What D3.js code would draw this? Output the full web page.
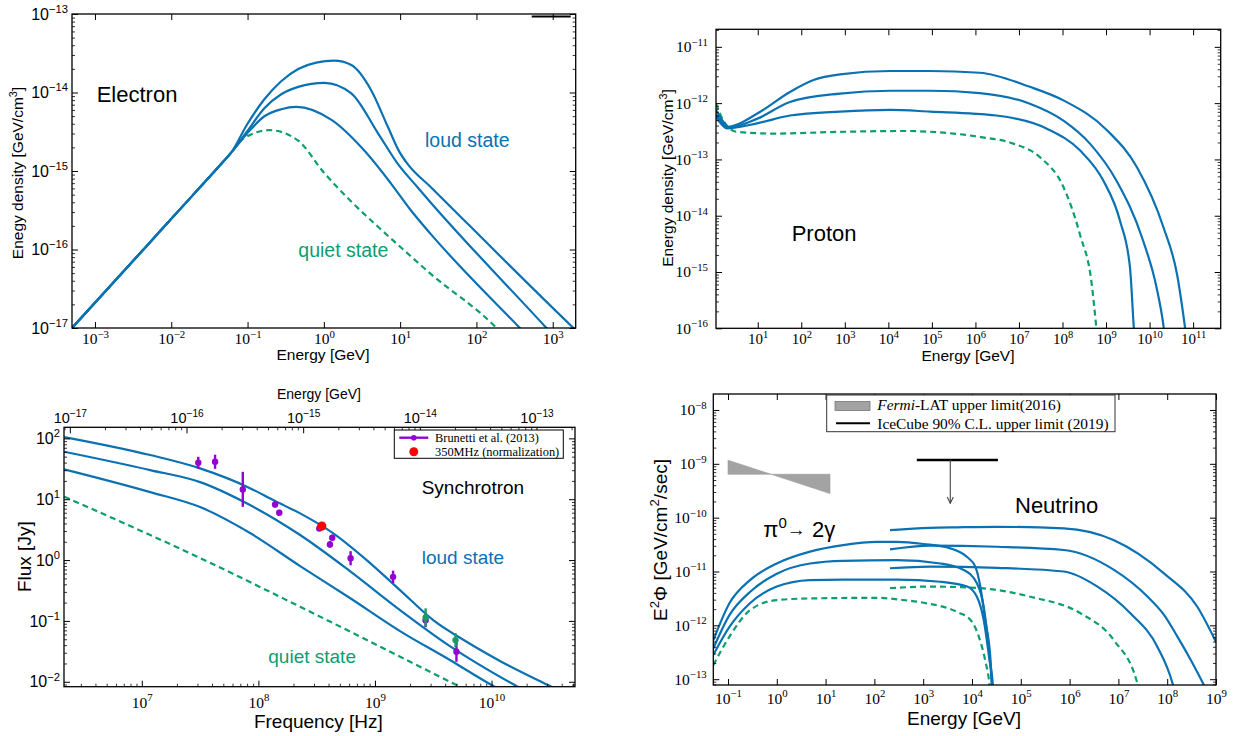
<!DOCTYPE html>
<html><head><meta charset="utf-8">
<script src="https://cdn.jsdelivr.net/npm/d3@7"></script>
<style>body{margin:0;background:#fff}svg{display:block}</style>
</head><body>
<svg id="chart" width="1237" height="736"></svg>
<script>
// ---------------- DATA ----------------
// Electron panel: [energy GeV, energy density GeV/cm^3]
const electronQuiet = [[5e-4,1e-17],[5e-3,1.17e-16],[2e-2,5.15e-16],[4.47e-2,1.22e-15],[6.17e-2,1.74e-15],[8.71e-2,2.57e-15],[0.195,3.31e-15],[0.457,2.45e-15],[1.02,9.33e-16],[2.28,4.09e-16],[5.09,1.96e-16],[11.4,9.68e-17],[25.4,4.85e-17],[171,1.07e-17],[260,7.0e-18]];
const electronLoud1 = [[5e-4,1e-17],[5e-3,1.17e-16],[2e-2,5.15e-16],[4.47e-2,1.22e-15],[6.17e-2,1.74e-15],[0.099,3.02e-15],[0.166,4.98e-15],[0.276,6.12e-15],[0.435,6.55e-15],[1.26,4.47e-15],[3.39,1.82e-15],[7.59,6.92e-16],[13.8,3.16e-16],[25.1,1.58e-16],[347,1.07e-17],[501,7.41e-18]];
const electronLoud2 = [[5e-4,1e-17],[5e-3,1.17e-16],[2e-2,5.15e-16],[4.47e-2,1.22e-15],[6.17e-2,1.74e-15],[0.099,3.21e-15],[0.166,6.31e-15],[0.276,9.51e-15],[0.461,1.18e-14],[1.02,1.33e-14],[2.29,9.77e-15],[5.13,3.02e-15],[9.33,1.23e-15],[17.0,6.17e-16],[25.1,3.98e-16],[776,1.07e-17],[1122,7.24e-18]];
const electronLoud3 = [[5e-4,1e-17],[5e-3,1.17e-16],[2e-2,5.15e-16],[4.47e-2,1.22e-15],[6.17e-2,1.74e-15],[0.099,3.94e-15],[0.166,8.20e-15],[0.276,1.39e-14],[0.461,1.99e-14],[0.793,2.40e-14],[1.365,2.54e-14],[2.29,2.24e-14],[4.17,1.07e-14],[6.92,3.63e-15],[9.70,1.78e-15],[12.5,1.23e-15],[25.5,6.18e-16],[1738,1.07e-17],[2512,7.59e-18]];
const electronXTicks = [1e-3,1e-2,1e-1,1,10,100,1000];
const electronYTicks = [1e-17,1e-16,1e-15,1e-14,1e-13];

// Proton panel
const protonQuiet = [[1.1,9.77e-13],[1.62,4.90e-13],[3.31,3.09e-13],[22.9,2.88e-13],[776,3.09e-13],[2.63e4,3.2e-13],[9.12e4,3.1e-13],[1.26e6,2.51e-13],[7.41e6,1.91e-13],[3.02e7,1.10e-13],[1.05e8,3.24e-14],[2.51e8,4.68e-15],[4.68e8,6.17e-16],[6.03e8,9.55e-17],[7.08e8,2.51e-17]];
const protonLoud1 = [[1.1,5.62e-13],[1.58,3.98e-13],[1.95,3.55e-13],[9.55,4.37e-13],[55,6.03e-13],[776,7.08e-13],[1.1e4,7.59e-13],[9.12e4,7.08e-13],[3.02e6,6.03e-13],[4.27e7,3.55e-13],[2.51e8,1.45e-13],[8.71e8,4.17e-14],[2.09e9,8.13e-15],[3.55e9,1.20e-15],[4.37e9,9.55e-17],[5.01e9,2.51e-17]];
const protonLoud2 = [[1.1,6.31e-13],[1.58,4.37e-13],[2.14,3.63e-13],[9.55,5.25e-13],[55,1.05e-12],[776,1.48e-12],[1.1e4,1.66e-12],[9.12e4,1.66e-12],[1.26e6,1.51e-12],[1.78e7,9.77e-13],[1.05e8,4.90e-13],[4.27e8,1.91e-13],[1.74e9,4.17e-14],[7.08e9,3.63e-15],[1.45e10,5.25e-16],[2.14e10,9.55e-17],[2.51e10,3.16e-17]];
const protonLoud3 = [[1.1,7.59e-13],[1.58,4.79e-13],[2.14,3.80e-13],[9.55,6.46e-13],[55,1.58e-12],[191,2.57e-12],[776,3.24e-12],[1.1e4,3.72e-12],[9.12e4,3.72e-12],[1.26e6,3.47e-12],[1.78e7,1.95e-12],[1.05e8,1.12e-12],[1.05e9,3.31e-13],[5.13e9,7.24e-14],[2.09e10,6.17e-15],[4.27e10,9.12e-16],[6.61e10,9.55e-17],[7.94e10,3.16e-17]];
const protonXTicks = [10,1e2,1e3,1e4,1e5,1e6,1e7,1e8,1e9,1e10,1e11];
const protonYTicks = [1e-16,1e-15,1e-14,1e-13,1e-12,1e-11];

// Synchrotron panel: [frequency Hz, flux Jy]
const syncQuiet = [[2.16e6,11.0],[1.18e7,2.58],[3.16e7,1.08],[2.28e8,0.171],[2.77e9,0.0156],[5.01e9,8.83e-3],[5.18e10,9.46e-4]];
const syncLoud1 = [[2.16e6,31.0],[1.18e7,13.1],[3.16e7,7.43],[8.47e7,2.78],[2.28e8,0.796],[6.10e8,0.238],[1.64e9,0.0681],[4.39e9,0.0228],[1.0e10,8.83e-3],[5.18e10,1.95e-3]];
const syncLoud2 = [[2.16e6,60.3],[1.18e7,30.1],[3.16e7,19.1],[8.47e7,8.02],[2.28e8,2.58],[6.10e8,0.659],[1.64e9,0.151],[4.39e9,0.0386],[1.58e10,8.83e-3],[5.18e10,2.73e-3]];
const syncLoud3 = [[2.16e6,105],[1.18e7,53.2],[3.16e7,32.1],[8.47e7,15.2],[1.39e8,9.33],[2.28e8,5.85],[4.39e8,2.75],[8.49e8,1.0],[1.64e9,0.321],[3.16e9,0.103],[6.11e9,0.0454],[1.18e10,0.0220],[3.05e10,8.83e-3],[5.18e10,5.40e-3]];
const brunettiFreq = [30.5e6,42.5e6,73.5e6,139e6,151e6,333e6,411e6,430e6,618e6,1.43e9,2.72e9,5.0e9];
const brunettiFlux = [39.7,41.2,14.5,8.2,6.0,3.3,1.81,2.33,1.07,0.53,0.103,0.0311];
const brunettiLo   = [31.6,31.6,7.5,7.3,5.4,3.1,1.6,2.1,0.82,0.42,0.079,0.0213];
const brunettiHi   = [49.8,53.8,28.2,9.2,6.7,3.5,2.05,2.6,1.40,0.67,0.134,0.0452];
const greenFreq = [2.72e9,4.91e9];
const greenFlux = [0.114,0.0484];
const greenLo   = [0.081,0.037];
const greenHi   = [0.161,0.063];
const normPoint = [350e6,3.62];
const syncXTicks = [1e7,1e8,1e9,1e10];
const syncYTicks = [1e-2,1e-1,1,10,100];
const syncTopTicks = [1e-17,1e-16,1e-15,1e-14,1e-13];

// Neutrino panel: [energy GeV, E^2 Phi]
const nuLowQuiet = [[0.05,1.82e-13],[0.107,6.17e-13],[0.282,1.91e-12],[1,2.95e-12],[4.79,3.16e-12],[112,3.24e-12],[398,2.95e-12],[1023,2.63e-12],[4898,1.78e-12],[9333,1.26e-12],[1.38e4,6.17e-13],[1.86e4,2.24e-13],[2.29e4,7.24e-14],[2.40e4,3.16e-14]];
const nuLowLoud1 = [[0.05,2.82e-13],[0.107,9.33e-13],[0.282,2.57e-12],[1,5.25e-12],[4.79,6.92e-12],[22.9,7.08e-12],[288,7.08e-12],[2239,6.46e-12],[7943,5.25e-12],[1.26e4,3.39e-12],[1.74e4,1.26e-12],[2.29e4,2.24e-13],[2.69e4,7.24e-14],[2.82e4,3.16e-14]];
const nuLowLoud2 = [[0.05,3.72e-13],[0.107,1.55e-12],[0.282,4.17e-12],[1,9.12e-12],[4.79,1.41e-11],[22.9,1.58e-11],[288,1.62e-11],[2239,1.41e-11],[6761,1.07e-11],[1.26e4,6.03e-12],[1.74e4,2.19e-12],[2.19e4,3.98e-13],[2.57e4,7.24e-14],[2.69e4,3.16e-14]];
const nuLowLoud3 = [[0.05,5.25e-13],[0.107,2.57e-12],[0.282,6.92e-12],[1,1.41e-11],[4.79,2.34e-11],[22.9,3.09e-11],[112,3.55e-11],[288,3.55e-11],[1023,3.24e-11],[3631,2.69e-11],[7943,1.86e-11],[1.17e4,1.23e-11],[1.48e4,5.25e-12],[1.86e4,1.26e-12],[2.40e4,2.24e-13],[2.57e4,7.24e-14],[2.69e4,3.16e-14]];
const nuHighQuiet = [[209,4.90e-12],[1380,5.25e-12],[1.48e4,4.90e-12],[1.58e5,3.39e-12],[1.70e6,1.66e-12],[8.13e6,5.25e-13],[2.45e7,8.32e-14],[2.82e7,3.98e-14]];
const nuHighLoud1 = [[209,1.15e-11],[1380,1.23e-11],[3.24e4,1.17e-11],[7.59e5,1.0e-11],[3.72e6,5.25e-12],[1.78e7,1.66e-12],[6.31e7,3.98e-13],[1.29e8,8.32e-14],[1.58e8,3.98e-14]];
const nuHighLoud2 = [[209,2.57e-11],[1380,3.02e-11],[3.24e4,2.88e-11],[7.59e5,2.51e-11],[8.13e6,1.07e-11],[3.98e7,3.39e-12],[8.67e7,1.55e-12],[1.63e8,6.11e-13],[3.06e8,2.25e-13],[5.66e8,7.73e-14],[7.89e8,4.07e-14]];
const nuHighLoud3 = [[209,5.89e-11],[1380,6.46e-11],[4898,6.61e-11],[3.24e4,6.76e-11],[7.59e5,6.31e-11],[8.13e6,3.80e-11],[8.71e7,9.12e-12],[4.17e8,2.19e-12],[1e9,4.90e-13]];
const fermiBowtie = [[0.1,1.17e-9],[0.1,6.4e-10],[12.3,6.4e-10],[12.3,2.8e-10]];
const icecubeLimit = [[740,1.18e-9],[3.4e4,1.18e-9]];
const icecubeArrow = [[3590,1.18e-9],[3590,1.85e-10]];
const nuXTicks = [0.1,1,10,1e2,1e3,1e4,1e5,1e6,1e7,1e8,1e9];
const nuYTicks = [1e-13,1e-12,1e-11,1e-10,1e-9,1e-8];

// ---------------- DRAWING ----------------
const BLUE = "#0a71b3", GREEN = "#0b9e70", PURPLE = "#9400d3";
const SANS = "'Liberation Sans', Arial, Helvetica, sans-serif";
const SERIF = "'Liberation Serif', 'Times New Roman', serif";
const svg = d3.select("#chart");
const defs = svg.append("defs");
defs.append("marker").attr("id","arrowHead").attr("viewBox","0 0 10 10").attr("refX",9).attr("refY",5)
  .attr("markerWidth",7).attr("markerHeight",7).attr("orient","auto")
  .append("path").attr("d","M1,1 L9,5 L1,9").attr("fill","none").attr("stroke","#444").attr("stroke-width",1.4);

const isPow10 = v => Math.abs(Math.log10(v) - Math.round(Math.log10(v))) < 1e-6;

function powLabel(sel, d, size, family) {
  const e = Math.round(Math.log10(d));
  sel.text(null).attr("font-size", size).attr("font-family", family).attr("fill", "#000");
  sel.append("tspan").text("10");
  sel.append("tspan").attr("font-size", size * 0.7).attr("dy", -size * 0.42)
     .text(e < 0 ? "\u2212" + (-e) : String(e));
}

function drawAxis(g, orient, scale, pos, majors, opt) {
  const mk = {bottom: d3.axisBottom, top: d3.axisTop, left: d3.axisLeft, right: d3.axisRight}[orient];
  const tr = (orient === "bottom" || orient === "top") ? `translate(0,${pos})` : `translate(${pos},0)`;
  const ax = g.append("g").attr("transform", tr)
    .call(mk(scale).tickValues(majors).tickSizeInner(-6).tickSizeOuter(0).tickPadding(opt.pad || 0));
  ax.select(".domain").remove();
  ax.selectAll(".tick line").attr("stroke", "#000").attr("stroke-width", 1);
  if (opt.labels) ax.selectAll(".tick text").each(function (d) { powLabel(d3.select(this), d, opt.size, opt.family); });
  else ax.selectAll(".tick text").remove();
  if (opt.minor) {
    const minors = scale.ticks().filter(v => !isPow10(v));
    const mx = g.append("g").attr("transform", tr)
      .call(mk(scale).tickValues(minors).tickSizeInner(-3).tickSizeOuter(0).tickFormat(""));
    mx.select(".domain").remove();
    mx.selectAll(".tick line").attr("stroke", "#000").attr("stroke-width", 0.8);
  }
}

function makePanel(id, box, xDom, yDom) {
  const g = svg.append("g");
  defs.append("clipPath").attr("id", "clip-" + id).append("rect")
    .attr("x", box.L).attr("y", box.T).attr("width", box.R - box.L).attr("height", box.B - box.T);
  const x = d3.scaleLog().domain(xDom).range([box.L, box.R]);
  const y = d3.scaleLog().domain(yDom).range([box.B, box.T]);
  return {g, x, y, box, clip: `url(#clip-${id})`};
}

function drawSeries(p, data, color, dashed) {
  p.g.append("path").datum(data).attr("clip-path", p.clip)
    .attr("fill", "none").attr("stroke", color).attr("stroke-width", 2.2)
    .attr("stroke-dasharray", dashed ? "6,4" : null)
    .attr("d", d3.line().x(d => p.x(d[0])).y(d => p.y(d[1])).curve(d3.curveMonotoneX));
}

function frame(p) {
  p.g.append("rect").attr("x", p.box.L).attr("y", p.box.T)
    .attr("width", p.box.R - p.box.L).attr("height", p.box.B - p.box.T)
    .attr("fill", "none").attr("stroke", "#000").attr("stroke-width", 1.3);
}

function label(g, x, y, txt, size, color, opt = {}) {
  const t = g.append("text").attr("x", x).attr("y", y).attr("font-family", opt.family || SANS)
    .attr("font-size", size).attr("fill", color || "#000").attr("text-anchor", opt.anchor || "start");
  if (opt.rotate) t.attr("transform", `rotate(-90,${x},${y})`);
  if (Array.isArray(txt)) {
    txt.forEach(part => {
      const s = t.append("tspan").text(part.t);
      if (part.sup) s.attr("font-size", size * 0.7).attr("dy", -size * 0.4);
      if (part.down) s.attr("dy", size * 0.4);
      if (part.italic) s.attr("font-style", "italic");
    });
  } else t.text(txt);
  return t;
}

// ===== Panel 1: Electron =====
{
  const p = makePanel("e", {L: 72, T: 14, R: 575.7, B: 328}, [5e-4, 2e3], [1e-17, 1e-13]);
  drawSeries(p, electronQuiet, GREEN, true);
  drawSeries(p, electronLoud1, BLUE, false);
  drawSeries(p, electronLoud2, BLUE, false);
  drawSeries(p, electronLoud3, BLUE, false);
  drawAxis(p.g, "bottom", p.x, 328, electronXTicks, {labels: true, size: 15.5, family: SERIF, pad: 5});
  drawAxis(p.g, "top", p.x, 14, electronXTicks, {});
  drawAxis(p.g, "left", p.y, 72, electronYTicks, {labels: true, size: 16, family: SANS, pad: 4, minor: true});
  drawAxis(p.g, "right", p.y, 575.7, electronYTicks, {minor: true});
  frame(p);
  p.g.append("line").attr("x1", 531.7).attr("x2", 570.7).attr("y1", 16.5).attr("y2", 16.5)
    .attr("stroke", "#000").attr("stroke-width", 2);
  label(p.g, 96.7, 101.7, "Electron", 22, "#000");
  label(p.g, 425, 146.7, "loud state", 19.5, BLUE);
  label(p.g, 298.3, 256.7, "quiet state", 19.5, GREEN);
  label(p.g, 323, 360, "Energy [GeV]", 15.5, "#000", {anchor: "middle"});
  label(p.g, 23, 173, [{t: "Enegy density  [GeV/cm"}, {t: "3", sup: true}, {t: "]", down: true}], 15.5, "#000", {anchor: "middle", rotate: true});
}

// ===== Panel 2: Proton =====
{
  const p = makePanel("p", {L: 716, T: 29.3, R: 1220.7, B: 328.3}, [1.1, 4.3e11], [1e-16, 2.05e-11]);
  drawSeries(p, protonQuiet, GREEN, true);
  drawSeries(p, protonLoud1, BLUE, false);
  drawSeries(p, protonLoud2, BLUE, false);
  drawSeries(p, protonLoud3, BLUE, false);
  drawAxis(p.g, "bottom", p.x, 328.3, protonXTicks, {labels: true, size: 15, family: SERIF, pad: 5});
  drawAxis(p.g, "top", p.x, 29.3, protonXTicks, {});
  drawAxis(p.g, "left", p.y, 716, protonYTicks, {labels: true, size: 15.5, family: SERIF, pad: 8, minor: true});
  drawAxis(p.g, "right", p.y, 1220.7, protonYTicks, {minor: true});
  frame(p);
  label(p.g, 791.7, 240.7, "Proton", 22, "#000");
  label(p.g, 968, 361, "Energy [GeV]", 15.5, "#000", {anchor: "middle"});
  label(p.g, 673, 178, [{t: "Energy density  [GeV/cm"}, {t: "3", sup: true}, {t: "]", down: true}], 15.5, "#000", {anchor: "middle", rotate: true});
}

// ===== Panel 3: Synchrotron =====
{
  const p = makePanel("s", {L: 64, T: 427.3, R: 575, B: 686.7}, [2.15e6, 5.2e10], [8.3e-3, 152]);
  const xTop = d3.scaleLog().domain([Math.pow(10, -17.05), Math.pow(10, -12.67)]).range([64, 575]);
  drawSeries(p, syncQuiet, GREEN, true);
  drawSeries(p, syncLoud1, BLUE, false);
  drawSeries(p, syncLoud2, BLUE, false);
  drawSeries(p, syncLoud3, BLUE, false);
  const pts = p.g.append("g");
  const bars = (fr, fl, lo, hi, col) => {
    fr.forEach((f, i) => {
      pts.append("line").attr("x1", p.x(f)).attr("x2", p.x(f)).attr("y1", p.y(lo[i])).attr("y2", p.y(hi[i]))
        .attr("stroke", col).attr("stroke-width", 2.4);
      pts.append("circle").attr("cx", p.x(f)).attr("cy", p.y(fl[i])).attr("r", 3.2).attr("fill", col);
    });
  };
  bars(brunettiFreq, brunettiFlux, brunettiLo, brunettiHi, PURPLE);
  bars(greenFreq, greenFlux, greenLo, greenHi, "#1a9a6a");
  pts.append("circle").attr("cx", p.x(normPoint[0])).attr("cy", p.y(normPoint[1])).attr("r", 4.6).attr("fill", "#ff0000");

  drawAxis(p.g, "bottom", p.x, 686.7, syncXTicks, {labels: true, size: 15.5, family: SERIF, pad: 10, minor: true});
  drawAxis(p.g, "top", xTop, 427.3, syncTopTicks, {labels: true, size: 14.5, family: SANS, pad: 4, minor: true});
  drawAxis(p.g, "left", p.y, 64, syncYTicks, {labels: true, size: 16, family: SANS, pad: 4, minor: true});
  drawAxis(p.g, "right", p.y, 575, syncYTicks, {minor: true});
  frame(p);
  const lg = p.g.append("g");
  lg.append("rect").attr("x", 394.3).attr("y", 430).attr("width", 169).attr("height", 28.3)
    .attr("fill", "#fff").attr("stroke", "#000").attr("stroke-width", 1);
  lg.append("line").attr("x1", 399.3).attr("x2", 428.3).attr("y1", 437.7).attr("y2", 437.7).attr("stroke", PURPLE).attr("stroke-width", 2.4);
  lg.append("circle").attr("cx", 413.8).attr("cy", 437.7).attr("r", 2.8).attr("fill", PURPLE);
  lg.append("circle").attr("cx", 413.8).attr("cy", 451.7).attr("r", 4.5).attr("fill", "#ff0000");
  label(lg, 435, 441.8, "Brunetti et al. (2013)", 12.4, "#000", {family: SERIF});
  label(lg, 435, 455.6, "350MHz (normalization)", 12.4, "#000", {family: SERIF});

  label(p.g, 421.7, 494, "Synchrotron", 19, "#000");
  label(p.g, 421.7, 564, "loud state", 19, BLUE);
  label(p.g, 268.3, 663.3, "quiet state", 19, GREEN);
  label(p.g, 319, 398.5, "Energy [GeV]", 14, "#000", {anchor: "middle"});
  label(p.g, 318.3, 728, "Frequency  [Hz]", 19, "#000", {anchor: "middle"});
  label(p.g, 31.5, 556.7, "Flux  [Jy]", 19, "#000", {anchor: "middle", rotate: true});
}

// ===== Panel 4: Neutrino =====
{
  const p = makePanel("n", {L: 713.3, T: 394, R: 1216, B: 685}, [0.05, 1e9], [7.8e-14, 1.98e-8]);
  p.g.append("path").datum(fermiBowtie).attr("fill", "#a3a3a3").attr("stroke", "#9a9a9a").attr("stroke-width", 0.6)
    .attr("d", d3.line().x(d => p.x(d[0])).y(d => p.y(d[1])).curve(d3.curveLinearClosed));
  p.g.append("path").datum(icecubeLimit).attr("stroke", "#000").attr("stroke-width", 2.4).attr("fill", "none")
    .attr("d", d3.line().x(d => p.x(d[0])).y(d => p.y(d[1])));
  p.g.append("path").datum(icecubeArrow).attr("stroke", "#444").attr("stroke-width", 1.1).attr("fill", "none")
    .attr("marker-end", "url(#arrowHead)")
    .attr("d", d3.line().x(d => p.x(d[0])).y(d => p.y(d[1])));

  drawSeries(p, nuLowQuiet, GREEN, true);
  drawSeries(p, nuHighQuiet, GREEN, true);
  [nuLowLoud1, nuLowLoud2, nuLowLoud3, nuHighLoud1, nuHighLoud2, nuHighLoud3].forEach(s => drawSeries(p, s, BLUE, false));

  drawAxis(p.g, "bottom", p.x, 685, nuXTicks, {labels: true, size: 15.5, family: SERIF, pad: 8});
  drawAxis(p.g, "top", p.x, 394, nuXTicks, {});
  drawAxis(p.g, "left", p.y, 713.3, nuYTicks, {labels: true, size: 15.5, family: SERIF, pad: 6.5, minor: true});
  drawAxis(p.g, "right", p.y, 1216, nuYTicks, {minor: true});
  frame(p);

  const lg = p.g.append("g");
  lg.append("rect").attr("x", 826.7).attr("y", 395).attr("width", 288.3).attr("height", 36.7)
    .attr("fill", "#fff").attr("stroke", "#333").attr("stroke-width", 1);
  lg.append("rect").attr("x", 835).attr("y", 401.5).attr("width", 35).attr("height", 9)
    .attr("fill", "#a3a3a3").attr("stroke", "#777").attr("stroke-width", 0.8);
  lg.append("line").attr("x1", 836).attr("x2", 870).attr("y1", 423.3).attr("y2", 423.3).attr("stroke", "#000").attr("stroke-width", 2);
  label(lg, 877.3, 410, [{t: "Fermi", italic: true}, {t: "-LAT upper limit(2016)"}], 15.4, "#000", {family: SERIF});
  label(lg, 877.3, 428.5, "IceCube 90% C.L. upper limit (2019)", 15.4, "#000", {family: SERIF});

  const pi = p.g.append("text").attr("x", 763.3).attr("y", 536.7).attr("font-family", SANS).attr("font-size", 22).attr("fill", "#000");
  pi.append("tspan").text("\u03c0");
  pi.append("tspan").attr("font-size", 15).attr("dy", -9).text("0");
  pi.append("tspan").attr("font-size", 19).attr("dy", 8).attr("dx", 0).text("\u2192");
  pi.append("tspan").attr("dy", 1).text(" 2\u03b3");
  label(p.g, 1015, 513.3, "Neutrino", 22, "#000");
  label(p.g, 964, 725, "Energy  [GeV]", 19, "#000", {anchor: "middle"});
  label(p.g, 667, 540, [{t: "E"}, {t: "2", sup: true}, {t: "\u03a6  [GeV/cm", down: true}, {t: "2", sup: true}, {t: "/sec]", down: true}], 19, "#000", {anchor: "middle", rotate: true});
}
</script>
</body></html>
